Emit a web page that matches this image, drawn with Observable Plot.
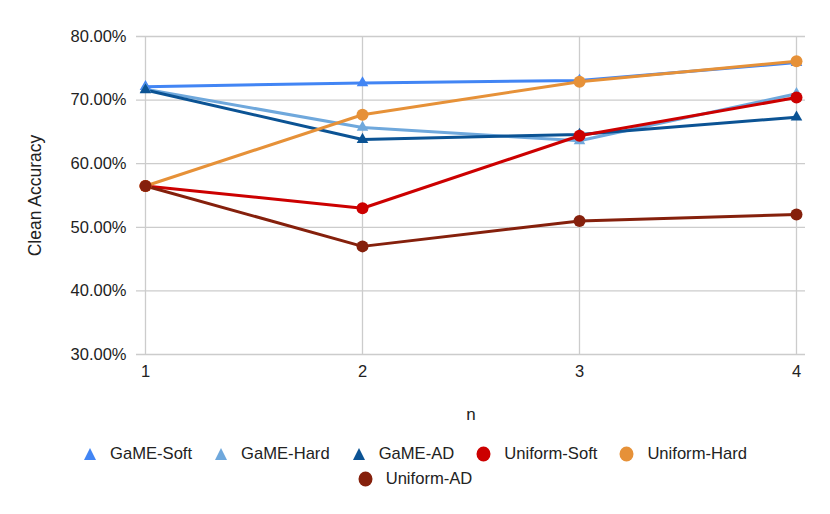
<!DOCTYPE html>
<html>
<head>
<meta charset="utf-8">
<script src="https://cdn.jsdelivr.net/npm/d3@7"></script>
<script src="https://cdn.jsdelivr.net/npm/@observablehq/plot@0.6"></script>
<style>
  html, body { margin: 0; padding: 0; background: #fff; }
  body { width: 830px; font-family: "Liberation Sans", Arial, sans-serif; }
  #legend { display: flex; flex-wrap: wrap; justify-content: center; column-gap: 22px; row-gap: 3px;
            width: 700px; margin: 0 auto; padding-top: 13px; padding-left: 0px; font-size: 16.6px; color: #222; }
  .item { display: flex; align-items: center; gap: 13px; height: 22px; }
  .item svg { display: block; }
</style>
</head>
<body>
<div id="chart"></div>
<div id="legend"></div>
<script>
const ns = [1, 2, 3, 4];
const seriesNames = ["GaME-Soft", "GaME-Hard", "GaME-AD", "Uniform-Soft", "Uniform-Hard", "Uniform-AD"];
const seriesColors = ["#4285f4", "#6fa8dc", "#0b5394", "#cc0000", "#e69138", "#85200c"];
const seriesSymbols = ["triangle", "triangle", "triangle", "circle", "circle", "circle"];
const gameSoft = [0.721, 0.727, 0.731, 0.759];
const gameHard = [0.717, 0.657, 0.636, 0.710];
const gameAD = [0.716, 0.638, 0.646, 0.673];
const uniformSoft = [0.565, 0.530, 0.644, 0.704];
const uniformHard = [0.565, 0.677, 0.729, 0.761];
const uniformAD = [0.565, 0.470, 0.510, 0.520];
const yTicks = [0.3, 0.4, 0.5, 0.6, 0.7, 0.8];

const allValues = [gameSoft, gameHard, gameAD, uniformSoft, uniformHard, uniformAD];
const data = [];
seriesNames.forEach((s, i) => ns.forEach((n, j) => data.push({series: s, n, value: allValues[i][j], symbol: seriesSymbols[i]})));

const chart = Plot.plot({
  width: 830,
  height: 430,
  marginLeft: 145,
  marginRight: 34,
  marginTop: 36,
  marginBottom: 76,
  style: {fontFamily: "'Liberation Sans', Arial, sans-serif", fontSize: "16px", color: "#222", background: "#fff"},
  x: {type: "linear", domain: [1, 4]},
  y: {domain: [0.3, 0.8]},
  color: {domain: seriesNames, range: seriesColors},
  marks: [
    Plot.ruleY(yTicks, {stroke: "#cccccc", strokeWidth: 1.3, insetLeft: -9, insetRight: -9}),
    Plot.ruleX(ns, {stroke: "#cccccc", strokeWidth: 1.3}),
    Plot.axisY(yTicks, {tickSize: 0, tickPadding: 19, tickFormat: d3.format(".2%"), label: null, fontSize: 16.5}),
    Plot.axisY({label: "Clean Accuracy", ticks: [], tickSize: 0, labelAnchor: "center", labelOffset: 117, labelArrow: "none", fontSize: 17.5}),
    Plot.axisX(ns, {tickSize: 0, tickPadding: 11, tickFormat: d => String(d), label: null, fontSize: 16.5}),
    Plot.axisX({label: "n", ticks: [], tickSize: 0, labelAnchor: "center", labelOffset: 65, labelArrow: "none", fontSize: 17}),
    Plot.line(data, {x: "n", y: "value", z: "series", stroke: "series", strokeWidth: 3}),
    Plot.dot(data.filter(d => d.symbol === "triangle"), {x: "n", y: "value", fill: "series", symbol: "triangle", r: 4.3}),
    Plot.dot(data.filter(d => d.symbol === "circle"), {x: "n", y: "value", fill: "series", symbol: "circle", r: 6})
  ]
});
document.getElementById("chart").appendChild(chart);

const legend = document.getElementById("legend");
seriesNames.forEach((s, i) => {
  const item = document.createElement("div");
  item.className = "item";
  const sym = seriesSymbols[i] === "triangle"
    ? `<svg width="14" height="14"><polygon points="7,1 13,13 1,13" fill="${seriesColors[i]}"/></svg>`
    : `<svg width="15" height="16"><ellipse cx="7.5" cy="8" rx="7" ry="7.5" fill="${seriesColors[i]}"/></svg>`;
  item.innerHTML = sym + `<span>${s}</span>`;
  legend.appendChild(item);
});
</script>
</body>
</html>
